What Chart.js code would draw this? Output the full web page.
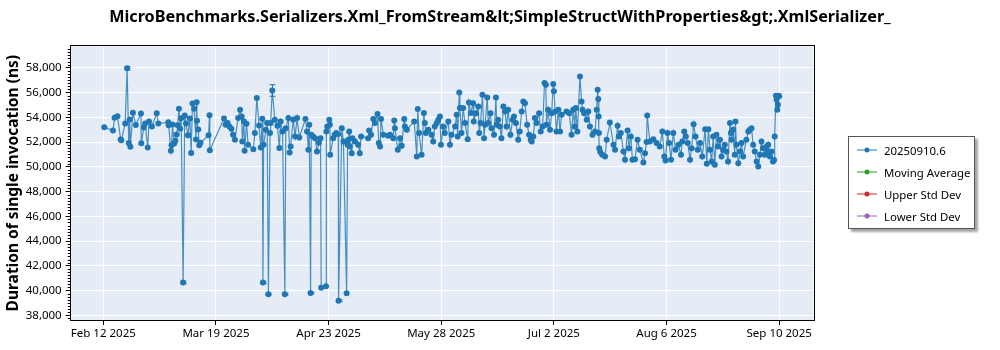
<!DOCTYPE html>
<html>
<head>
<meta charset="utf-8">
<title>Xml_FromStream benchmark</title>
<script src="https://cdn.jsdelivr.net/npm/chart.js@4.4.0/dist/chart.umd.min.js"></script>
<style>
  html, body { margin: 0; padding: 0; background: #fff; }
  #wrap { position: relative; width: 1000px; height: 350px; }
  #legend {
    position: absolute; left: 848px; top: 136px; width: 127px; height: 93px;
    box-sizing: border-box; border: 1px solid #555; background: #fff;
    box-shadow: 3px 3px 2px rgba(0,0,0,0.35);
    font: 11.4px "Noto Sans", sans-serif; color: #000;
  }
  .item { position: absolute; left: 8px; height: 16px; display: flex; align-items: center; white-space: nowrap; }
  .item svg { margin-right: 5px; }
</style>
</head>
<body>
<div id="wrap">
  <canvas id="chartCanvas" width="1000" height="350"></canvas>
  <div id="legend"></div>
</div>
<script>
// --- data (x = days since Feb 12 2025) ---
const seriesDays = [
  0.3, 3.0, 3.5, 4.4, 5.4, 5.6, 6.8, 7.4, 7.9, 8.2, 8.4, 9.2, 10.1, 11.7, 11.8, 12.6, 13.0, 13.8, 14.2, 15.1,
  16.6, 17.1, 20.2, 20.3, 21.0, 21.2, 21.5, 22.0, 22.4, 22.8, 23.1, 23.5, 23.9, 24.2, 24.8, 25.3, 25.7, 26.3, 26.9, 27.3,
  27.7, 28.2, 28.8, 29.0, 29.1, 29.5, 29.8, 30.2, 32.7, 33.0, 33.1, 37.5, 38.0, 38.6, 39.2, 39.8, 40.3, 40.9, 41.9, 42.5,
  43.0, 43.2, 43.7, 43.9, 44.5, 45.0, 46.6, 47.1, 47.7, 48.4, 48.9, 49.4, 49.6, 49.8, 50.5, 50.9, 51.3, 51.8, 52.0, 52.5,
  53.3, 54.1, 54.7, 55.1, 55.7, 56.4, 56.7, 57.5, 57.9, 58.2, 59.0, 59.6, 60.2, 60.9, 62.8, 63.3, 63.7, 64.0, 64.4, 64.6,
  65.2, 65.8, 66.4, 67.0, 67.5, 67.7, 69.2, 69.3, 69.6, 70.2, 70.4, 70.5, 71.4, 71.9, 72.4, 73.0, 73.1, 74.1, 74.6, 75.6,
  75.9, 76.1, 76.4, 76.6, 77.2, 77.4, 78.2, 79.2, 79.7, 80.1, 82.3, 82.6, 83.2, 83.9, 84.4, 85.2, 85.6, 86.0, 86.3, 87.0,
  88.5, 89.1, 90.1, 90.4, 90.6, 91.5, 92.2, 92.7, 93.5, 93.7, 94.3, 96.6, 97.4, 97.7, 98.1, 98.9, 99.6, 99.9, 100.2, 101.0,
  102.0, 102.5, 103.0, 103.6, 104.1, 104.6, 104.9, 105.6, 106.1, 107.2, 107.7, 108.2, 109.3, 109.8, 110.1, 110.6, 110.8, 111.3, 111.8, 112.4,
  113.2, 113.6, 114.2, 114.9, 115.1, 115.8, 116.5, 116.8, 117.2, 117.8, 118.3, 118.6, 119.3, 119.6, 120.3, 120.6, 121.4, 122.0, 122.2, 122.7,
  123.2, 123.7, 124.3, 124.8, 125.3, 125.8, 126.5, 127.2, 127.6, 128.2, 128.9, 129.4, 130.0, 130.5, 131.0, 131.7, 132.3, 132.8, 133.1, 133.6,
  134.1, 134.6, 135.4, 135.9, 136.5, 137.1, 137.5, 137.7, 138.2, 138.8, 139.3, 139.8, 140.0, 140.4, 140.8, 141.4, 141.9, 142.4, 143.9, 144.8,
  145.5, 146.0, 146.5, 146.8, 147.3, 148.1, 148.6, 148.9, 149.4, 150.2, 150.7, 151.2, 152.0, 152.8, 153.3, 153.6, 153.8, 153.9, 154.0, 154.1,
  154.4, 155.0, 155.9, 156.4, 157.4, 158.5, 159.0, 159.8, 160.2, 160.8, 161.6, 162.1, 162.9, 163.3, 163.9, 164.4, 165.2, 166.0, 166.7, 167.8,
  168.3, 168.8, 169.0, 169.8, 170.9, 171.9, 172.9, 173.7, 174.3, 174.7, 175.3, 175.8, 176.4, 177.1, 177.8, 178.7, 179.5, 179.9, 180.5, 181.0,
  181.6, 182.3, 182.8, 183.4, 184.0, 184.7, 185.4, 186.1, 187.0, 187.5, 188.0, 188.5, 189.0, 189.5, 190.0, 190.5, 191.0, 191.6, 192.1, 192.6,
  193.1, 193.6, 194.1, 194.7, 195.0, 195.2, 195.7, 196.2, 196.4, 196.7, 197.3, 197.8, 198.3, 198.8, 199.8, 200.4, 200.9, 201.4, 201.9, 202.4,
  203.0, 203.5, 204.0, 204.5, 205.0, 205.5, 206.1, 206.4, 206.6, 207.1, 207.6, 208.1, 208.4, 208.6, 209.0, 209.2, 209.4, 209.6, 209.8, 210.0
];
const seriesValues = [
  53200, 52920, 53950, 54090, 52200, 52140, 53490, 57950, 51920, 53820, 51620, 54360, 53380, 54300, 51900, 53170, 53490, 51560, 53650, 53250,
  54330, 53490, 53600, 53360, 51300, 51740, 53410, 51880, 52100, 52600, 53360, 54680, 53080, 53920, 40650, 54140, 53500, 52550, 53900, 51110,
  55110, 54680, 52210, 55220, 53710, 53000, 51730, 51930, 52550, 54170, 51330, 53900, 53390, 53530, 53250, 53070, 52580, 52180, 53930, 54600,
  54060, 52040, 53660, 51290, 53470, 51770, 51420, 52720, 55550, 53330, 51560, 53880, 40640, 51770, 52990, 53530, 39700, 52720, 53530, 56160,
  53800, 53310, 51510, 53660, 52850, 39700, 53120, 53930, 51150, 51640, 53800, 52440, 53930, 52360, 53850, 52850, 51370, 53390, 39800, 52580,
  52440, 52310, 51230, 51930, 52310, 40230, 40340, 52850, 53250, 53800, 53390, 50960, 52310, 52580, 52720, 52640, 39180, 53120, 52040, 39780,
  51770, 52180, 52850, 51640, 51100, 52310, 52040, 51770, 51100, 52440, 52310, 52930, 52580, 53850, 53530, 54260, 51910, 51640, 53850, 52580,
  52500, 52580, 52310, 53740, 53120, 51370, 52310, 51690, 53850, 53250, 52990, 53660, 50830, 54660, 52720, 50960, 54340, 53530, 52720, 52990,
  52580, 52040, 53250, 53530, 53800, 54060, 51770, 53250, 52720, 53660, 51770, 52580, 53250, 54200, 52440, 56000, 54740, 52720, 54740, 53530,
  52230, 55200, 54340, 55140, 53660, 54330, 54870, 52720, 53530, 55820, 52310, 53390, 55600, 53530, 54330, 53120, 52580, 55600, 53390, 53800,
  53260, 52310, 54870, 54470, 53260, 54600, 52580, 53800, 54060, 53530, 52180, 52850, 54470, 55280, 55140, 53390, 52580, 52180, 52040, 52450,
  53930, 53530, 54330, 52850, 53260, 56760, 56630, 53390, 54600, 52990, 54330, 56680, 56090, 54470, 52850, 54600, 52850, 54200, 54470, 54330,
  52580, 54600, 53260, 54740, 52850, 57300, 55280, 54600, 54330, 53800, 54470, 53260, 52580, 52850, 54600, 56220, 55470, 54060, 52720, 51500,
  51200, 50960, 50830, 52180, 53580, 51770, 51370, 53310, 52450, 52720, 51230, 50560, 52930, 51500, 52450, 50560, 50610, 52180, 51370, 50340,
  51100, 51990, 54150, 52040, 52230, 51910, 51640, 52850, 50830, 50510, 52720, 51910, 50560, 52720, 51370, 51770, 50960, 52040, 52850, 52450,
  51910, 50560, 51500, 53440, 52450, 51370, 51910, 50830, 53040, 50240, 53040, 51370, 50430, 52450, 50160, 52580, 51640, 52180, 50830, 51370,
  51770, 51230, 50430, 53530, 52720, 52180, 52990, 50960, 53660, 51770, 50290, 51230, 51910, 50830, 52180, 52850, 52990, 53120, 51770, 51230,
  50430, 50020, 50960, 52040, 51500, 50960, 51640, 51230, 51770, 50830, 51230, 50430, 50550, 52450, 55740, 55410, 54600, 55010, 55740, 55700
];
// error bars (days and half-height in ns)
const errorDays = [7.4, 24.8, 49.6, 51.3, 52.5, 56.4, 73.1, 64.4];
const errorSizes = [130, 90, 80, 80, 470, 80, 80, 70];

const xTickDays = [0, 35, 70, 105, 140, 175, 210];
const xTickLabels = ["Feb 12 2025", "Mar 19 2025", "Apr 23 2025", "May 28 2025", "Jul 2 2025", "Aug 6 2025", "Sep 10 2025"];
const yTickValues = [38000, 40000, 42000, 44000, 46000, 48000, 50000, 52000, 54000, 56000, 58000];

const legendNames = ["20250910.6", "Moving Average", "Upper Std Dev", "Lower Std Dev"];
const legendColors = ["#1f77b4", "#2ca02c", "#d62728", "#9467bd"];

const chartTitle = "MicroBenchmarks.Serializers.Xml_FromStream&lt;SimpleStructWithProperties&gt;.XmlSerializer_";
const yTitle = "Duration of single invocation (ns)";

// --- legend (html) ---
const legendBox = document.getElementById("legend");
legendNames.forEach((name, i) => {
  const div = document.createElement("div");
  div.className = "item";
  div.style.top = (5 + i * 22) + "px";
  div.innerHTML = `<svg width="22" height="8"><line x1="0" y1="4" x2="20" y2="4" stroke="${legendColors[i]}" stroke-width="1"/><circle cx="10" cy="4" r="2.5" fill="${legendColors[i]}"/></svg><span>${name}</span>`;
  legendBox.appendChild(div);
});

// --- plugins ---
const plotBackground = {
  id: "plotBackground",
  beforeDraw(chart) {
    const { ctx, chartArea: a } = chart;
    ctx.save();
    ctx.fillStyle = "#e5ecf6";
    ctx.fillRect(a.left, a.top, a.right - a.left, a.bottom - a.top);
    ctx.restore();
  }
};

const frameAndMinor = {
  id: "frameAndMinor",
  afterDraw(chart) {
    const { ctx, chartArea: a } = chart;
    const y = chart.scales.y;
    ctx.save();
    ctx.strokeStyle = "#000";
    ctx.lineWidth = 1;
    ctx.strokeRect(Math.round(a.left) - 0.5, Math.round(a.top) - 0.5, Math.round(a.right - a.left) + 1, Math.round(a.bottom - a.top) + 1);
    // minor ticks on y
    ctx.beginPath();
    for (let v = Math.ceil(y.min / 250) * 250; v <= y.max; v += 250) {
      if (v % 2000 === 0) continue;
      const py = Math.round(y.getPixelForValue(v)) + 0.5;
      ctx.moveTo(a.left - 3, py);
      ctx.lineTo(a.left, py);
    }
    ctx.stroke();
    ctx.restore();
  }
};

const errorBars = {
  id: "errorBars",
  afterDatasetsDraw(chart) {
    const { ctx } = chart;
    const xs = chart.scales.x, ys = chart.scales.y;
    ctx.save();
    ctx.strokeStyle = "#1f77b4";
    ctx.lineWidth = 1;
    errorDays.forEach((d, i) => {
      const idx = seriesDays.indexOf(d);
      if (idx < 0) return;
      const px = Math.round(xs.getPixelForValue(d)) + 0.5;
      const top = ys.getPixelForValue(seriesValues[idx] + errorSizes[i]);
      const bot = ys.getPixelForValue(seriesValues[idx] - errorSizes[i]);
      ctx.beginPath();
      ctx.moveTo(px, top); ctx.lineTo(px, bot);
      ctx.moveTo(px - 3, top); ctx.lineTo(px + 3, top);
      ctx.moveTo(px - 3, bot); ctx.lineTo(px + 3, bot);
      ctx.stroke();
    });
    ctx.restore();
  }
};

Chart.defaults.font.family = '"Noto Sans", sans-serif';
Chart.defaults.color = "#000";

const canvas = document.getElementById("chartCanvas");
new Chart(canvas, {
  type: "scatter",
  data: {
    datasets: [
      {
        label: legendNames[0],
        data: seriesDays.map((d, i) => ({ x: d, y: seriesValues[i] })),
        showLine: true,
        borderColor: "rgba(31,119,180,0.8)",
        borderWidth: 1.2,
        pointRadius: 3,
        pointBackgroundColor: "#1f77b4",
        pointBorderWidth: 0
      },
      { label: legendNames[1], data: [], borderColor: legendColors[1] },
      { label: legendNames[2], data: [], borderColor: legendColors[2] },
      { label: legendNames[3], data: [], borderColor: legendColors[3] }
    ]
  },
  options: {
    responsive: false,
    animation: false,
    layout: { padding: 0 },
    plugins: {
      legend: { display: false },
      tooltip: { enabled: false },
      title: {
        display: true,
        text: chartTitle,
        color: "#000",
        font: { size: 16.2, weight: "bold" },
        padding: { top: 8, bottom: 19 }
      }
    },
    scales: {
      x: {
        type: "linear",
        min: -10.13,
        max: 220.6,
        afterBuildTicks: axis => { axis.ticks = xTickDays.map(v => ({ value: v })); },
        afterFit: s => { s.height = 30; },
        ticks: {
          callback: (v, i) => xTickLabels[i],
          autoSkip: false, maxRotation: 0, padding: 2,
          font: { size: 11.5 }
        },
        grid: { color: "#fff", tickColor: "#000", tickLength: 5, lineWidth: 1 },
        border: { display: false }
      },
      y: {
        type: "linear",
        min: 37620,
        max: 59720,
        afterBuildTicks: axis => { axis.ticks = yTickValues.map(v => ({ value: v })); },
        afterFit: s => { s.width = 70.7; },
        ticks: {
          callback: v => v.toLocaleString("en-US"),
          padding: 4,
          font: { size: 11.5 }
        },
        grid: { color: "#fff", tickColor: "#000", tickLength: 5, lineWidth: 1 },
        border: { display: false },
        title: {
          display: true,
          text: yTitle,
          color: "#000",
          font: { size: 15.5, weight: "bold" },
          padding: { top: 4, bottom: 0 }
        }
      },
      yRight: {
        type: "linear",
        position: "right",
        display: true,
        grid: { display: false },
        ticks: { display: false },
        border: { display: false },
        afterFit: s => { s.width = 186.7; }
      }
    }
  },
  plugins: [plotBackground, frameAndMinor, errorBars]
});
</script>
</body>
</html>
